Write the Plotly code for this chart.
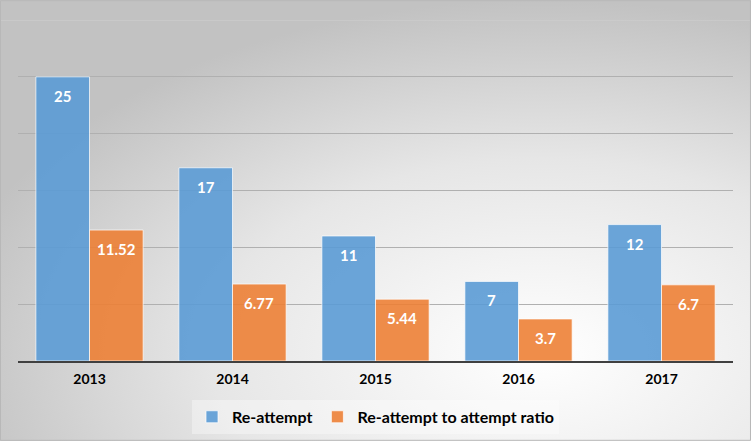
import plotly.graph_objects as go

years = ["2013", "2014", "2015", "2016", "2017"]
reattempt = [25, 17, 11, 7, 12]
ratio = [11.52, 6.77, 5.44, 3.7, 6.7]
reattempt_labels = ["25", "17", "11", "7", "12"]
ratio_labels = ["11.52", "6.77", "5.44", "3.7", "6.7"]

W, H = 751, 441
L, R, T, B = 18, 18, 20, 80
pw, ph = W - L - R, H - T - B
BARGAP = 0.25
half_bar = pw / len(years) * (1 - BARGAP) / 4  # center offset of each bar in a group

svg = (
    "data:image/svg+xml;utf8,"
    "<svg xmlns='http://www.w3.org/2000/svg' width='751' height='441'>"
    "<defs><radialGradient id='g' cx='0.72' cy='0.8' r='0.8' gradientUnits='objectBoundingBox'>"
    "<stop offset='0' stop-color='%23ffffff'/>"
    "<stop offset='0.55' stop-color='%23e6e6e6'/>"
    "<stop offset='1' stop-color='%23c2c2c2'/>"
    "</radialGradient></defs>"
    "<rect width='751' height='441' fill='url(%23g)'/></svg>"
)

font = "Lato, 'Open Sans', sans-serif"

fig = go.Figure()
fig.add_trace(go.Bar(
    x=years, y=reattempt, name="Re-attempt",
    marker=dict(color="rgba(91,155,213,0.9)", line=dict(color="rgba(255,255,255,0.7)", width=1)),
))
fig.add_trace(go.Bar(
    x=years, y=ratio, name="Re-attempt to attempt ratio",
    marker=dict(color="rgba(237,125,49,0.88)", line=dict(color="rgba(255,255,255,0.7)", width=1)),
))

annotations = []
for i, (v, lab) in enumerate(zip(reattempt, reattempt_labels)):
    annotations.append(dict(x=i, y=v, xref="x", yref="y", text=lab, showarrow=False,
                            yanchor="top", yshift=-8, xshift=-half_bar,
                            font=dict(color="white", size=15, family=font, weight="bold")))
for i, (v, lab) in enumerate(zip(ratio, ratio_labels)):
    annotations.append(dict(x=i, y=v, xref="x", yref="y", text=lab, showarrow=False,
                            yanchor="top", yshift=-8, xshift=half_bar,
                            font=dict(color="white", size=15, family=font, weight="bold")))

fig.update_layout(
    width=W, height=H,
    margin=dict(l=L, r=R, t=T, b=B, autoexpand=False),
    paper_bgcolor="#dcdcdc",
    plot_bgcolor="rgba(0,0,0,0)",
    barmode="group", bargap=BARGAP, bargroupgap=0,
    font=dict(family=font, color="#000"),
    showlegend=True,
    legend=dict(orientation="h", x=0.5, xanchor="center", y=-0.114, yanchor="top",
                font=dict(size=16, family=font, weight="bold", color="#000"),
                bgcolor="rgba(255,255,255,0.35)", itemwidth=30,
                traceorder="normal"),
    annotations=annotations,
    images=[dict(source=svg, xref="paper", yref="paper",
                 x=-L / pw, y=1 + T / ph, sizex=W / pw, sizey=H / ph,
                 xanchor="left", yanchor="top", sizing="stretch", layer="below")],
    shapes=[
        dict(type="line", xref="paper", yref="y", x0=-L / pw, x1=1 + R / pw, y0=30, y1=30,
             line=dict(color="#cfcfcf", width=1)),
        dict(type="rect", xref="paper", yref="paper", x0=-L / pw + 0.0007, x1=1 + R / pw - 0.0007,
             y0=-B / ph + 0.002, y1=1 + T / ph - 0.002, line=dict(color="#b8b8b8", width=1)),
    ],
)
fig.update_xaxes(type="category", range=[-0.5, len(years) - 0.5], showline=True,
                 linecolor="#404040", linewidth=2, ticks="", ticklabelstandoff=4,
                 tickfont=dict(size=14, family=font, weight="bold", color="#000"))
fig.update_yaxes(range=[0, 30], dtick=5, showticklabels=False, showgrid=True,
                 gridcolor="#b0b0b0", gridwidth=1, zeroline=False)

fig.write_html("out.html", config={"displayModeBar": False},
               post_script="document.body.style.margin='0';document.body.style.overflow='hidden';")
